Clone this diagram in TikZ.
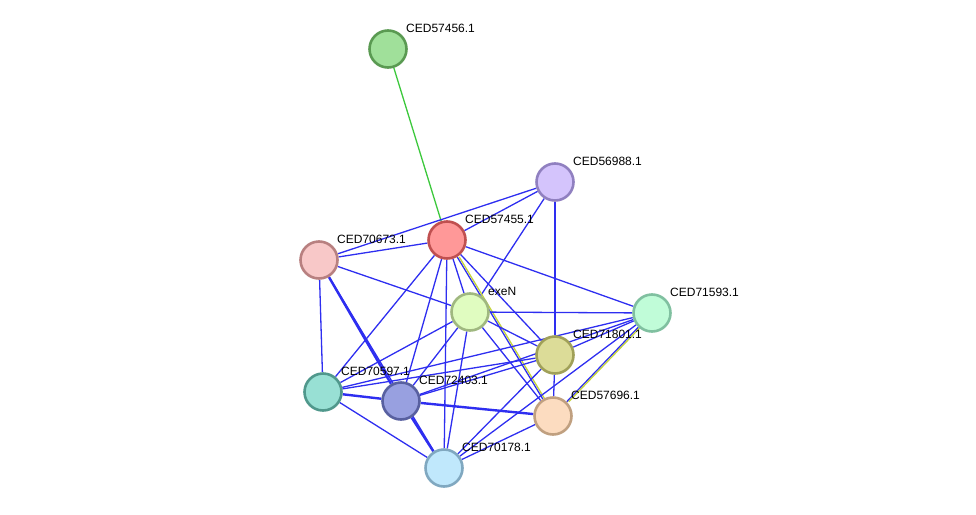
\documentclass[tikz,border=0pt]{standalone}
\usepackage{fontspec}
\setmainfont{Liberation Sans}
\usetikzlibrary{backgrounds}
\definecolor{edgeblue}{HTML}{2E2EF0}
\definecolor{edgegreen}{HTML}{3CC83C}
\definecolor{edgeyellow}{HTML}{C4D43C}
\definecolor{d57456}{HTML}{5A9A52}\definecolor{f57456}{HTML}{A0E09A}
\definecolor{d56988}{HTML}{9080C0}\definecolor{f56988}{HTML}{D4C4FC}
\definecolor{d57455}{HTML}{C05050}\definecolor{f57455}{HTML}{FF9898}
\definecolor{d70673}{HTML}{B88080}\definecolor{f70673}{HTML}{F8C8C8}
\definecolor{dexeN}{HTML}{A0B880}\definecolor{fexeN}{HTML}{E0FCC0}
\definecolor{d71593}{HTML}{80C0A0}\definecolor{f71593}{HTML}{C0FCD8}
\definecolor{d71801}{HTML}{A0A058}\definecolor{f71801}{HTML}{DCDC98}
\definecolor{d70597}{HTML}{50988C}\definecolor{f70597}{HTML}{98E0D4}
\definecolor{d72403}{HTML}{5860A0}\definecolor{f72403}{HTML}{98A0E0}
\definecolor{d57696}{HTML}{C0A080}\definecolor{f57696}{HTML}{FCDCC0}
\definecolor{d70178}{HTML}{80A8C0}\definecolor{f70178}{HTML}{C0E8FC}
\begin{document}
\begin{tikzpicture}[
  x=1pt, y=-1pt,
  prot/.style={circle, line width=2.6pt, minimum size=37pt, inner sep=0pt},
  lbl/.style={anchor=west, font=\fontsize{12}{14}\selectfont, inner sep=0pt},
  bl/.style={draw=edgeblue, line width=1.3pt},
  blthick/.style={draw=edgeblue, line width=2.4pt},
  gr/.style={draw=edgegreen, line width=1.3pt},
  ye/.style={draw=edgeyellow, line width=1.3pt}
]
\useasboundingbox (0,0) rectangle (976,514);

% proteins
\node[prot, draw=d57456, fill=f57456] (p57456) at (388, 49)  {};
\node[prot, draw=d56988, fill=f56988] (p56988) at (555,182)  {};
\node[prot, draw=d57455, fill=f57455] (p57455) at (447,240)  {};
\node[prot, draw=d70673, fill=f70673] (p70673) at (319,260)  {};
\node[prot, draw=dexeN,  fill=fexeN]  (pexeN)  at (470,312)  {};
\node[prot, draw=d71593, fill=f71593] (p71593) at (652,313)  {};
\node[prot, draw=d71801, fill=f71801] (p71801) at (555,355)  {};
\node[prot, draw=d70597, fill=f70597] (p70597) at (323,392)  {};
\node[prot, draw=d72403, fill=f72403] (p72403) at (401,401)  {};
\node[prot, draw=d57696, fill=f57696] (p57696) at (553,416)  {};
\node[prot, draw=d70178, fill=f70178] (p70178) at (444,468)  {};

% labels
\node[lbl] (l57456) at ([shift={(18,-21)}]p57456.center) {CED57456.1};
\node[lbl] (l56988) at ([shift={(18,-21)}]p56988.center) {CED56988.1};
\node[lbl] (l57455) at ([shift={(18,-21)}]p57455.center) {CED57455.1};
\node[lbl] (l70673) at ([shift={(18,-21)}]p70673.center) {CED70673.1};
\node[lbl] (lexeN)  at ([shift={(18,-21)}]pexeN.center)  {exeN};
\node[lbl] (l71593) at ([shift={(18,-21)}]p71593.center) {CED71593.1};
\node[lbl] (l71801) at ([shift={(18,-21)}]p71801.center) {CED71801.1};
\node[lbl] (l70597) at ([shift={(18,-21)}]p70597.center) {CED70597.1};
\node[lbl] (l72403) at ([shift={(18,-21)}]p72403.center) {CED72403.1};
\node[lbl] (l57696) at ([shift={(18,-21)}]p57696.center) {CED57696.1};
\node[lbl] (l70178) at ([shift={(18,-21)}]p70178.center) {CED70178.1};

% interactions
\begin{scope}[on background layer]
\draw[gr] (p57456) -- (p57455);
\draw[bl] (p56988) -- (p70673);
\draw[bl] (p56988) -- (p57455);
\draw[bl] (p56988) -- (pexeN);
\draw[blthick] (p56988) -- (p71801);
\draw[bl] (p57455) -- (p70673);
\draw[bl] (p57455) -- (pexeN);
\draw[bl] (p57455) -- (p71593);
\draw[bl] (p57455) -- (p71801);
\draw[bl] (p57455) -- (p57696);
\draw[ye, transform canvas={xshift=2pt}] (p57455) -- (p57696);
\draw[bl] (p57455) -- (p70597);
\draw[bl] (p57455) -- (p72403);
\draw[bl] (p57455) -- (p70178);
\draw[bl] (p70673) -- (pexeN);
\draw[bl] (p70673) -- (p70597);
\draw[blthick] (p70673) -- (p72403);
\draw[bl] (p70673) -- (p70178);
\draw[bl] (pexeN) -- (p71593);
\draw[bl] (pexeN) -- (p71801);
\draw[bl] (pexeN) -- (p57696);
\draw[bl] (pexeN) -- (p70597);
\draw[bl] (pexeN) -- (p72403);
\draw[bl] (pexeN) -- (p70178);
\draw[bl] (p71593) -- (p71801);
\draw[bl] (p71593) -- (p57696);
\draw[ye, transform canvas={xshift=2pt}] (p71593) -- (p57696);
\draw[bl] (p71593) -- (p72403);
\draw[bl] (p71593) -- (p70597);
\draw[bl] (p71593) -- (p70178);
\draw[bl] (p71801) -- (p70597);
\draw[bl] (p71801) -- (p72403);
\draw[bl] (p71801) -- (p57696);
\draw[bl] (p71801) -- (p70178);
\draw[blthick] (p70597) -- (p72403);
\draw[bl] (p70597) -- (p70178);
\draw[blthick] (p72403) -- (p57696);
\draw[blthick] (p72403) -- (p70178);
\draw[bl] (p57696) -- (p70178);
\end{scope}
\end{tikzpicture}
\end{document}
